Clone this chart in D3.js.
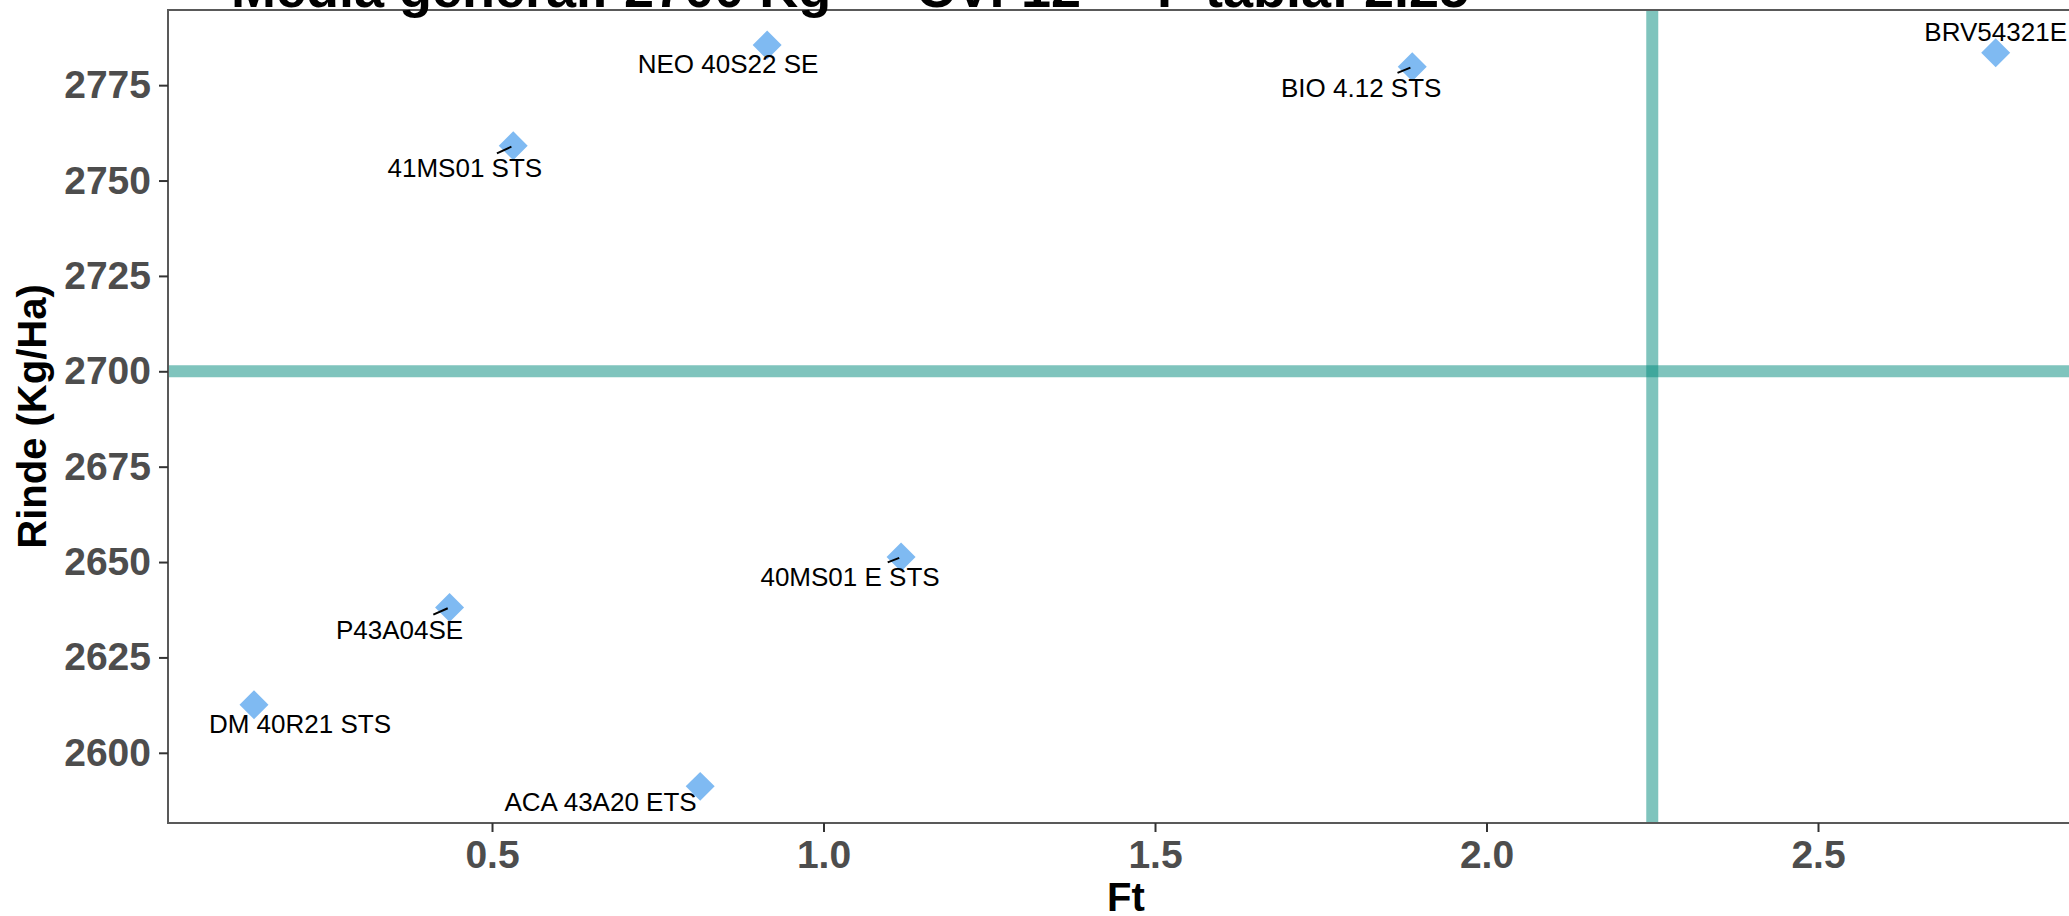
<!DOCTYPE html>
<html>
<head>
<meta charset="utf-8">
<script src="https://cdn.jsdelivr.net/npm/d3@7"></script>
<style>
  html, body { margin: 0; padding: 0; background: #fff; overflow: hidden; }
  svg { display: block; font-family: "Liberation Sans", Arial, sans-serif; }
</style>
</head>
<body>
<svg id="chart" width="2069" height="916"></svg>
<script>
// ---- data ----
const cultivars   = ["NEO 40S22 SE", "BIO 4.12 STS", "BRV54321E", "41MS01 STS", "40MS01 E STS", "P43A04SE", "DM 40R21 STS", "ACA 43A20 ETS"];
const ftValues    = [0.915, 1.888, 2.768, 0.532, 1.117, 0.436, 0.141, 0.814];
const rindeValues = [2785.5, 2779.8, 2783.5, 2759.1, 2651.3, 2638.1, 2612.6, 2591.2];
// label (repelled) positions, in data units
const labelFt     = [0.856, 1.811, 2.768, 0.459, 1.040, 0.3605, 0.2104, 0.6637];
const labelRinde  = [2780.5, 2774.3, 2788.9, 2753.2, 2646.0, 2632.3, 2607.5, 2587.0];
const xTicks = [0.5, 1.0, 1.5, 2.0, 2.5];
const yTicks = [2600, 2625, 2650, 2675, 2700, 2725, 2750, 2775];
const mediaGeneral = 2700;
const fTabla = 2.25;
const titleParts = ["Media general: 2700 Kg", "CV: 12", "F tabla: 2.25"];

// ---- layout ----
const W = 2069, H = 916;
const P = { left: 168, top: 10, right: 2084, bottom: 823 };
const svg = d3.select("#chart");

const x = d3.scaleLinear().domain([0.0113, 2.9012]).range([P.left, P.right]);
const y = d3.scaleLinear().domain([2581.6, 2794.7]).range([P.bottom, P.top]);

svg.append("defs").append("clipPath").attr("id", "clip")
  .append("rect").attr("x", P.left).attr("y", P.top)
  .attr("width", P.right - P.left).attr("height", P.bottom - P.top);

const data = cultivars.map((c, i) => ({
  name: c, ft: ftValues[i], rinde: rindeValues[i], lx: labelFt[i], ly: labelRinde[i]
}));

// reference lines
const ref = svg.append("g").attr("clip-path", "url(#clip)");
ref.append("line")
  .attr("x1", P.left).attr("x2", P.right)
  .attr("y1", y(mediaGeneral)).attr("y2", y(mediaGeneral))
  .attr("stroke", "#00897B").attr("stroke-opacity", 0.5).attr("stroke-width", 12);
ref.append("line")
  .attr("x1", x(fTabla)).attr("x2", x(fTabla))
  .attr("y1", P.top).attr("y2", P.bottom)
  .attr("stroke", "#00897B").attr("stroke-opacity", 0.5).attr("stroke-width", 12);

// points
const sym = d3.symbol().type(d3.symbolSquare).size(420);
svg.append("g").attr("clip-path", "url(#clip)")
  .selectAll("path").data(data).join("path")
  .attr("d", sym)
  .attr("transform", d => `translate(${x(d.ft)},${y(d.rinde)}) rotate(45)`)
  .attr("fill", "#7FBAF2");

// labels
const segG = svg.append("g");
const labG = svg.append("g");
const labels = labG.selectAll("text").data(data).join("text")
  .attr("x", d => x(d.lx))
  .attr("y", d => y(d.ly))
  .attr("dy", "0.35em")
  .attr("text-anchor", "middle")
  .attr("font-size", 26)
  .attr("fill", "#000")
  .text(d => d.name);

labels.each(function(d) {
  const b = this.getBBox();
  const cx = b.x + b.width / 2, cy = b.y + b.height / 2;
  const px = x(d.ft), py = y(d.rinde);
  const dx = px - cx, dy = py - cy;
  let t = Infinity;
  if (dx !== 0) t = Math.min(t, (b.width / 2) / Math.abs(dx));
  if (dy !== 0) t = Math.min(t, (b.height / 2) / Math.abs(dy));
  if (t >= 1) return;
  const sx = cx + dx * t, sy = cy + dy * t;
  const len = Math.hypot(px - sx, py - sy);
  if (len < 14) return;
  const ex = px - (px - sx) / len * 2, ey = py - (py - sy) / len * 2;
  segG.append("line")
    .attr("x1", sx).attr("y1", sy).attr("x2", ex).attr("y2", ey)
    .attr("stroke", "#000").attr("stroke-width", 2);
});
segG.raise();

// panel border
svg.append("rect")
  .attr("x", P.left).attr("y", P.top)
  .attr("width", P.right - P.left).attr("height", P.bottom - P.top)
  .attr("fill", "none").attr("stroke", "#595959").attr("stroke-width", 2);

// axes
const xAxis = svg.append("g").attr("transform", `translate(0,${P.bottom})`)
  .call(d3.axisBottom(x).tickValues(xTicks).tickFormat(d3.format(".1f")).tickSize(9).tickPadding(8));
const yAxis = svg.append("g").attr("transform", `translate(${P.left},0)`)
  .call(d3.axisLeft(y).tickValues(yTicks).tickFormat(d3.format("d")).tickSize(9).tickPadding(8));
[xAxis, yAxis].forEach(a => {
  a.select(".domain").remove();
  a.selectAll(".tick line").attr("stroke", "#333").attr("stroke-width", 2);
  a.selectAll(".tick text")
    .attr("font-family", "'Liberation Sans', Arial, sans-serif")
    .attr("font-size", 39).attr("font-weight", "bold").attr("fill", "#4D4D4D");
});
xAxis.selectAll(".tick text").attr("dy", "0.72em");

// axis titles
svg.append("text")
  .attr("x", (P.left + P.right) / 2).attr("y", 911)
  .attr("text-anchor", "middle")
  .attr("font-size", 40).attr("font-weight", "bold").attr("fill", "#000")
  .text("Ft");
svg.append("text")
  .attr("transform", `translate(46,${(P.top + P.bottom) / 2}) rotate(-90)`)
  .attr("text-anchor", "middle")
  .attr("font-size", 40).attr("font-weight", "bold").attr("fill", "#000")
  .text("Rinde (Kg/Ha)");

// title (top part cut off by the frame, as in the reference)
const titleX = [231, 916, 1157];
svg.append("g").selectAll("text").data(titleParts).join("text")
  .attr("x", (d, i) => titleX[i]).attr("y", 7)
  .attr("font-size", 54).attr("font-weight", "bold").attr("fill", "#000")
  .text(d => d);
</script>
</body>
</html>
